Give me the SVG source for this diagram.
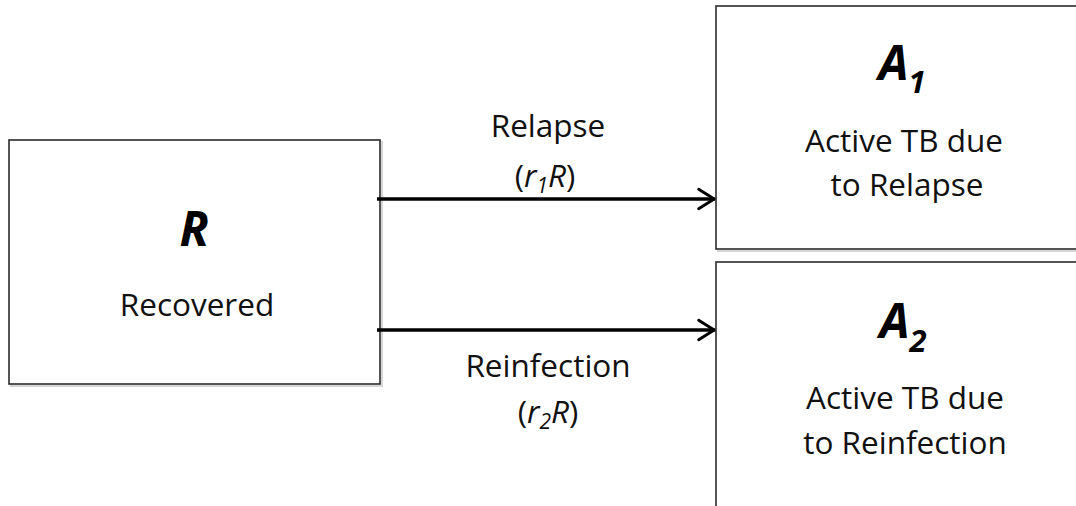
<svg xmlns="http://www.w3.org/2000/svg" width="1076" height="506" viewBox="0 0 1076 506">
  <defs>
    <style>
      .box { fill: #ffffff; stroke: #2b2b2b; stroke-width: 1.6; }
      .shadow { fill: none; stroke: #d6d6d6; stroke-width: 2; }
      .lbl { font-family: "Open Sans", "Liberation Sans", sans-serif; font-size: 31.5px; fill: #111; text-anchor: middle; }
      .sym { font-family: "Open Sans", "Liberation Sans", sans-serif; font-size: 48px; font-weight: bold; font-style: italic; fill: #000; }
      .edge { stroke: #000; stroke-width: 3.5; fill: none; }
    </style>
    <marker id="chev" viewBox="0 0 12 12" refX="11" refY="6" markerWidth="7" markerHeight="7" markerUnits="strokeWidth" orient="auto">
      <path d="M3,1.2 L10.6,6 L3,10.8" fill="none" stroke="#000" stroke-width="1.4" stroke-linecap="round" stroke-linejoin="round"/>
    </marker>
  </defs>
  <rect width="1076" height="506" fill="#ffffff"/>

  <!-- Recovered compartment -->
  <g id="node-R">
    <rect class="shadow" x="11" y="142" width="371" height="244"/>
    <rect class="box" x="9" y="140" width="371" height="244"/>
    <text class="sym" x="194" y="246" text-anchor="middle">R</text>
    <text class="lbl" x="197" y="316">Recovered</text>
  </g>

  <!-- Active TB due to relapse -->
  <g id="node-A1">
    <rect class="shadow" x="718" y="8" width="370" height="243"/>
    <rect class="box" x="716" y="6" width="370" height="243"/>
    <text class="sym" x="902" y="80" text-anchor="middle">A<tspan font-size="31px" dy="13">1</tspan></text>
    <text class="lbl" x="904" y="152">Active TB due</text>
    <text class="lbl" x="907" y="196">to Relapse</text>
  </g>

  <!-- Active TB due to reinfection -->
  <g id="node-A2">
    <rect class="shadow" x="718" y="264" width="370" height="250"/>
    <rect class="box" x="716" y="262" width="370" height="250"/>
    <text class="sym" x="903" y="338" text-anchor="middle">A<tspan font-size="31px" dy="14">2</tspan></text>
    <text class="lbl" x="905" y="409">Active TB due</text>
    <text class="lbl" x="905" y="454">to Reinfection</text>
  </g>

  <!-- Transitions -->
  <g id="connectors">
    <line class="edge" x1="377" y1="199" x2="715" y2="199" marker-end="url(#chev)"/>
    <line class="edge" x1="377" y1="330" x2="715" y2="330" marker-end="url(#chev)"/>
    <text class="lbl" x="548" y="137">Relapse</text>
    <text class="lbl" x="545" y="187">(<tspan font-style="italic">r</tspan><tspan font-style="italic" font-size="21px" dy="6">1</tspan><tspan font-style="italic" dy="-6">R</tspan>)</text>
    <text class="lbl" x="548" y="377">Reinfection</text>
    <text class="lbl" x="548" y="423">(<tspan font-style="italic">r</tspan><tspan font-style="italic" font-size="21px" dy="6">2</tspan><tspan font-style="italic" dy="-6">R</tspan>)</text>
  </g>
</svg>
